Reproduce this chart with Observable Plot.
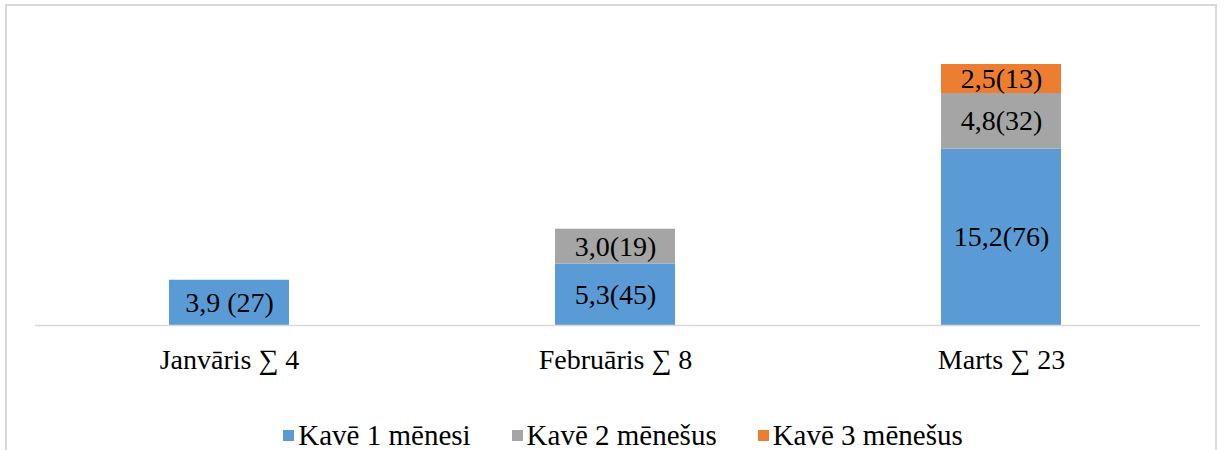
<!DOCTYPE html>
<html>
<head>
<meta charset="utf-8">
<script src="https://cdn.jsdelivr.net/npm/d3@7"></script>
<script src="https://cdn.jsdelivr.net/npm/@observablehq/plot@0.6"></script>
<style>
  html, body { margin: 0; padding: 0; background: #fff; }
  #wrap { position: relative; width: 1225px; height: 450px; overflow: hidden; font-family: "Liberation Serif", "Times New Roman", Times, serif; }
  #frame { position: absolute; left: 5px; top: 4px; width: 1212px; height: 470px; border: 2px solid #d9d9d9; box-sizing: border-box; }
  #chart { position: absolute; left: 0; top: 0; }
  #legend { position: absolute; left: 0; top: 419px; width: 1225px; display: flex; justify-content: center; gap: 41px; font-size: 29px; color: #000; padding-left: 21px; box-sizing: border-box; font-family: inherit; }
  .item { display: flex; align-items: center; white-space: nowrap; }
  .sw { width: 11px; height: 11px; margin-right: 4px; display: inline-block; }
</style>
</head>
<body>
<div id="wrap">
  <div id="frame"></div>
  <div id="chart"></div>
  <div id="legend"></div>
</div>
<script>
const months = ["Janvāris ∑ 4", "Februāris ∑ 8", "Marts ∑ 23"];
const series = ["Kavē 1 mēnesi", "Kavē 2 mēnešus", "Kavē 3 mēnešus"];
const colors = ["#5B9BD5", "#A5A5A5", "#ED7D31"];
const values1 = [3.9, 5.3, 15.2];
const values2 = [0, 3.0, 4.8];
const values3 = [0, 0, 2.5];
const labels1 = ["3,9 (27)", "5,3(45)", "15,2(76)"];
const labels2 = ["", "3,0(19)", "4,8(32)"];
const labels3 = ["", "", "2,5(13)"];

const allValues = [values1, values2, values3];
const allLabels = [labels1, labels2, labels3];
const rows = [];
series.forEach((s, si) => {
  months.forEach((m, mi) => {
    const v = allValues[si][mi];
    if (v > 0) rows.push({month: m, series: s, value: v, label: allLabels[si][mi]});
  });
});

const FONT = "'Liberation Serif', 'Times New Roman', Times, serif";

const plot = Plot.plot({
  width: 1225,
  height: 400,
  marginLeft: 35,
  marginRight: 31,
  marginTop: 35,
  marginBottom: 75,
  style: { background: "transparent", fontFamily: FONT, color: "#000" },
  x: { domain: months, paddingInner: 0.69, paddingOuter: 0.345, label: null },
  y: { domain: [0, 25], axis: null },
  color: { domain: series, range: colors },
  marks: [
    Plot.barY(rows, { x: "month", y: "value", fill: "series", order: series }),
    Plot.ruleY([0], { stroke: "#d9d9d9", strokeWidth: 1.5, insetRight: -6 }),
    Plot.text(rows, Plot.stackY({ x: "month", y: "value", z: "series", order: series, text: "label", fontSize: 28, fill: "#000", fontFamily: FONT })),
    Plot.axisX({ tickSize: 0, tickPadding: 24, fontSize: 28, fill: "#000", label: null, fontFamily: FONT })
  ]
});
document.getElementById("chart").appendChild(plot);

const legend = document.getElementById("legend");
series.forEach((s, i) => {
  const item = document.createElement("div");
  item.className = "item";
  const sw = document.createElement("span");
  sw.className = "sw";
  sw.style.background = colors[i];
  item.appendChild(sw);
  item.appendChild(document.createTextNode(s));
  legend.appendChild(item);
});
</script>
</body>
</html>
